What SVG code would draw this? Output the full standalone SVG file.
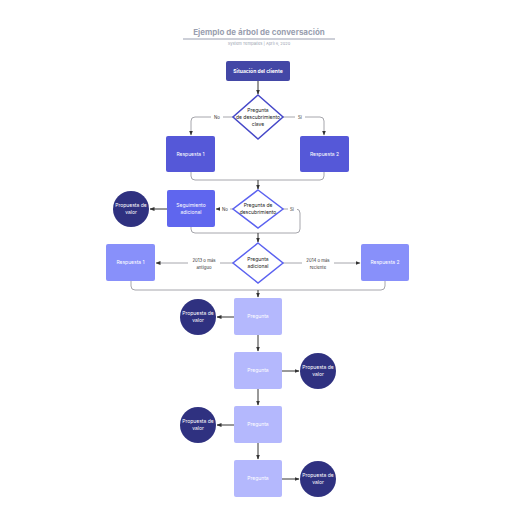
<svg xmlns="http://www.w3.org/2000/svg" width="516" height="516" viewBox="0 0 516 516">
<defs>
<marker id="ah" viewBox="0 0 10 10" refX="9" refY="5" markerWidth="5" markerHeight="5" orient="auto"><path d="M0,1 L10,5 L0,9 z" fill="#333"/></marker>
<style>
text{font-family:"Inter","Liberation Sans",sans-serif;fill:#fff;text-anchor:middle}
.t{font-size:5px}
.b{font-weight:bold}
.lbl{fill:#333;font-size:4.3px}
.gl{fill:none;stroke:#a6a6ac;stroke-width:1}
.dl{fill:none;stroke:#333;stroke-width:1}
.dia{fill:#fff;stroke-width:1.5}
.circ{fill:#2f3180}
</style>
</defs>
<rect width="516" height="516" fill="#fff"/>
<g id="title">
<text x="259" y="35" style="font-size:8px;font-weight:bold;fill:#9a9fb0">Ejemplo de árbol de conversación</text>
<line x1="183" y1="39" x2="335" y2="39" stroke="#9a9fb0" stroke-width="1"/>
<text x="259" y="45" style="font-size:4px;fill:#9a9fb0">System Templates  |  April 6, 2020</text>
</g>
<g id="connectors">
<path class="dl" d="M258,81 V94" marker-end="url(#ah)"/>
<path class="gl" d="M233,117 H195 Q191,117 191,121 V135" marker-end="url(#ah)"/>
<path class="gl" d="M283,117 H320 Q324,117 324,121 V135" marker-end="url(#ah)"/>
<path class="gl" d="M191,172 V176 Q191,180 195,180 H320 Q324,180 324,176 V172"/>
<path class="dl" d="M258,180 V189" marker-end="url(#ah)"/>
<path class="gl" d="M233,209 H216" marker-end="url(#ah)"/>
<path class="dl" d="M167,209 H150" marker-end="url(#ah)"/>
<path class="gl" d="M283,209 H296 Q300,209 300,213 V229 Q300,233 296,233 H195 Q191,233 191,229 V227"/>
<path class="dl" d="M258,233 V242" marker-end="url(#ah)"/>
<path class="gl" d="M233,263 H156" marker-end="url(#ah)"/>
<path class="gl" d="M283,263 H360" marker-end="url(#ah)"/>
<path class="gl" d="M131,281 V286 Q131,290 135,290 H381 Q385,290 385,286 V281"/>
<path class="dl" d="M258,290 V297" marker-end="url(#ah)"/>
<path class="dl" d="M234,317 H217" marker-end="url(#ah)"/>
<path class="dl" d="M258,335 V351" marker-end="url(#ah)"/>
<path class="dl" d="M282,371 H299" marker-end="url(#ah)"/>
<path class="dl" d="M258,389 V405" marker-end="url(#ah)"/>
<path class="dl" d="M234,425 H217" marker-end="url(#ah)"/>
<path class="dl" d="M258,443 V459" marker-end="url(#ah)"/>
<path class="dl" d="M282,479 H299" marker-end="url(#ah)"/>
<rect x="211" y="114" width="12" height="6" fill="#fff"/>
<text class="lbl" x="217" y="119">No</text>
<rect x="295" y="114" width="10" height="6" fill="#fff"/>
<text class="lbl" x="300" y="119">Sí</text>
<rect x="220" y="206" width="10" height="6" fill="#fff"/>
<text class="lbl" x="225" y="211">No</text>
<rect x="288" y="206" width="9" height="6" fill="#fff"/>
<text class="lbl" x="292" y="211">Sí</text>
<rect x="188" y="257" width="32" height="14" fill="#fff"/>
<text class="lbl" x="204" y="262">2013 o más</text>
<text class="lbl" x="204" y="269">antiguo</text>
<rect x="302" y="257" width="32" height="14" fill="#fff"/>
<text class="lbl" x="318" y="262">2014 o más</text>
<text class="lbl" x="318" y="269">reciente</text>
</g>
<g id="situacion">
<rect x="226" y="61" width="64" height="20" rx="2" fill="#4347a6"/>
<text class="t b" x="258" y="73">Situación del cliente</text>
</g>
<g id="diamond1">
<polygon class="dia" stroke="#4648c8" points="258,95 283,117 258,139 233,117"/>
<text class="t" x="258" y="112" style="fill:#222">Pregunta</text>
<text class="t" x="258" y="119" style="fill:#222">de descubrimiento</text>
<text class="t" x="258" y="126" style="fill:#222">clave</text>
</g>
<g id="respuesta1a">
<rect x="166" y="136" width="49" height="36" rx="2" fill="#5558d8"/>
<text class="t" x="190.5" y="156">Respuesta 1</text>
</g>
<g id="respuesta2a">
<rect x="300" y="136" width="49" height="36" rx="2" fill="#5558d8"/>
<text class="t" x="324.5" y="156">Respuesta 2</text>
</g>
<g id="diamond2">
<polygon class="dia" stroke="#5b62f0" points="258,190 283,209 258,228 233,209"/>
<text class="t" x="258" y="207" style="fill:#222">Pregunta de</text>
<text class="t" x="258" y="214" style="fill:#222">descubrimiento</text>
</g>
<g id="seguimiento">
<rect x="167" y="190" width="48" height="37" rx="2" fill="#5f66ee"/>
<text class="t" x="191" y="207">Seguimiento</text>
<text class="t" x="191" y="214">adicional</text>
</g>
<g id="propuesta1">
<circle class="circ" cx="131" cy="209" r="18"/>
<text class="t" x="131" y="207">Propuesta de</text>
<text class="t" x="131" y="214">valor</text>
</g>
<g id="diamond3">
<polygon class="dia" stroke="#5b62f0" points="258,243 283,263 258,283 233,263"/>
<text class="t" x="258" y="261" style="fill:#222">Pregunta</text>
<text class="t" x="258" y="268" style="fill:#222">adicional</text>
</g>
<g id="respuesta1b">
<rect x="106" y="244" width="49" height="37" rx="2" fill="#8890fa"/>
<text class="t" x="130.5" y="264">Respuesta 1</text>
</g>
<g id="respuesta2b">
<rect x="361" y="244" width="48" height="37" rx="2" fill="#8890fa"/>
<text class="t" x="385" y="264">Respuesta 2</text>
</g>
<g id="pregunta1">
<rect x="234" y="298" width="48" height="37" rx="2" fill="#b4b8fd"/>
<text class="t" x="258" y="318">Pregunta</text>
</g>
<g id="propuesta2">
<circle class="circ" cx="198" cy="317" r="18"/>
<text class="t" x="198" y="315">Propuesta de</text>
<text class="t" x="198" y="322">valor</text>
</g>
<g id="pregunta2">
<rect x="234" y="352" width="48" height="37" rx="2" fill="#b4b8fd"/>
<text class="t" x="258" y="372">Pregunta</text>
</g>
<g id="propuesta3">
<circle class="circ" cx="318" cy="371" r="18"/>
<text class="t" x="318" y="369">Propuesta de</text>
<text class="t" x="318" y="376">valor</text>
</g>
<g id="pregunta3">
<rect x="234" y="406" width="48" height="37" rx="2" fill="#b4b8fd"/>
<text class="t" x="258" y="426">Pregunta</text>
</g>
<g id="propuesta4">
<circle class="circ" cx="198" cy="425" r="18"/>
<text class="t" x="198" y="423">Propuesta de</text>
<text class="t" x="198" y="430">valor</text>
</g>
<g id="pregunta4">
<rect x="234" y="460" width="48" height="37" rx="2" fill="#b4b8fd"/>
<text class="t" x="258" y="480">Pregunta</text>
</g>
<g id="propuesta5">
<circle class="circ" cx="318" cy="479" r="18"/>
<text class="t" x="318" y="477">Propuesta de</text>
<text class="t" x="318" y="484">valor</text>
</g>
</svg>
